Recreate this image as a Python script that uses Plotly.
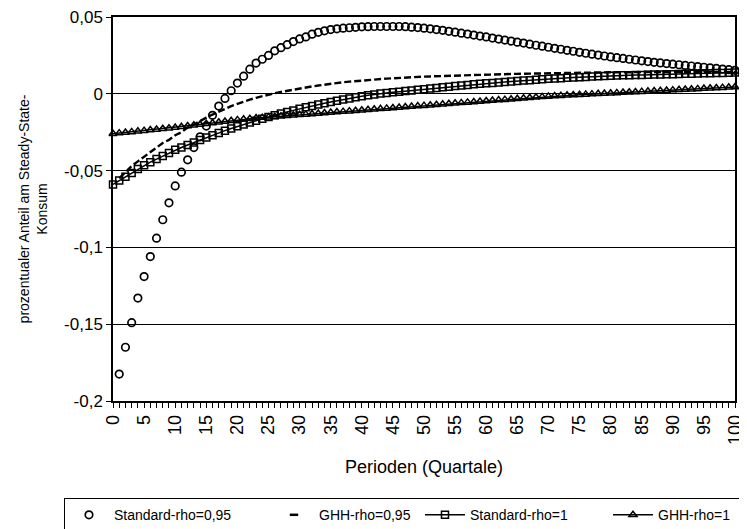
import plotly.graph_objects as go

periods = list(range(0, 101))

standard_rho_095 = [None,
    -0.1825, -0.165, -0.149, -0.133, -0.119, -0.106, -0.094, -0.082, -0.071, -0.060,
    -0.051, -0.043, -0.035, -0.028, -0.021, -0.014, -0.008, -0.003, 0.002, 0.007,
    0.0115, 0.016, 0.020, 0.0225, 0.025, 0.028, 0.030, 0.032, 0.034, 0.0357,
    0.037, 0.0388, 0.040, 0.041, 0.0418, 0.0423, 0.0427, 0.043, 0.0433, 0.0436,
    0.0437, 0.0438, 0.0438, 0.0438, 0.0438, 0.0438, 0.0437, 0.0434, 0.0431, 0.0427,
    0.0423, 0.0418, 0.0413, 0.0407, 0.0401, 0.0395, 0.0389, 0.0382, 0.0376, 0.037,
    0.0363, 0.0356, 0.035, 0.0343, 0.0336, 0.033, 0.0323, 0.0316, 0.031, 0.0303,
    0.0296, 0.029, 0.0283, 0.0277, 0.027, 0.0264, 0.0258, 0.0252, 0.0246, 0.024,
    0.0235, 0.023, 0.0225, 0.022, 0.0215, 0.021, 0.0205, 0.0201, 0.0197, 0.0193,
    0.0189, 0.0185, 0.0181, 0.0177, 0.0173, 0.0169, 0.0165, 0.0161, 0.0157, 0.0153]

ghh_rho_095 = [None,
    -0.055, -0.051, -0.047, -0.044, -0.041, -0.038, -0.035, -0.032, -0.030, -0.027,
    -0.025, -0.022, -0.020, -0.0175, -0.0155, -0.0135, -0.0115, -0.0095, -0.008, -0.0065,
    -0.005, -0.0038, -0.0026, -0.0015, -0.0005, 0.0004, 0.0012, 0.002, 0.0028, 0.0035,
    0.0042, 0.0048, 0.0054, 0.006, 0.0065, 0.007, 0.0075, 0.0079, 0.0083, 0.0087,
    0.009, 0.0093, 0.0096, 0.0099, 0.0101, 0.0104, 0.0106, 0.0108, 0.011, 0.0112,
    0.0113, 0.0115, 0.0116, 0.0118, 0.0119, 0.012, 0.0121, 0.0122, 0.0123, 0.0125,
    0.0126, 0.0127, 0.0128, 0.0129, 0.013, 0.0131, 0.0132, 0.0133, 0.0134, 0.0135,
    0.0136, 0.0136, 0.0137, 0.0137, 0.0138, 0.0138, 0.0139, 0.0139, 0.014, 0.014,
    0.014, 0.0141, 0.0141, 0.0141, 0.0141, 0.0142, 0.0142, 0.0142, 0.0142, 0.0142,
    0.0142, 0.0142, 0.0142, 0.0142, 0.0142, 0.0142, 0.0142, 0.0142, 0.0142, 0.0142]

standard_rho_1 = [-0.059,
    -0.0565, -0.054, -0.0515, -0.049, -0.0465, -0.0445, -0.0425, -0.0405, -0.0385, -0.0365,
    -0.035, -0.0333, -0.0317, -0.030, -0.0285, -0.027, -0.0255, -0.024, -0.0226, -0.0212,
    -0.020, -0.0187, -0.0175, -0.0163, -0.0151, -0.014, -0.0129, -0.0118, -0.0108, -0.0098,
    -0.0088, -0.0079, -0.007, -0.0061, -0.0053, -0.0045, -0.0037, -0.003, -0.0023, -0.0016,
    -0.001, -0.0004, 0.0002, 0.0006, 0.001, 0.0014, 0.0018, 0.0022, 0.0026, 0.003,
    0.0034, 0.0038, 0.0042, 0.0046, 0.005, 0.0054, 0.0058, 0.0062, 0.0065, 0.0068,
    0.0071, 0.0074, 0.0077, 0.008, 0.0083, 0.0086, 0.0089, 0.0092, 0.0095, 0.0098,
    0.01, 0.0102, 0.0104, 0.0106, 0.0108, 0.011, 0.0112, 0.0114, 0.0116, 0.0118,
    0.0119, 0.012, 0.0121, 0.0122, 0.0123, 0.0124, 0.0125, 0.0126, 0.0127, 0.0128,
    0.0129, 0.013, 0.0131, 0.0132, 0.0133, 0.0134, 0.0135, 0.0136, 0.0137, 0.0138]

ghh_rho_1 = [-0.026,
    -0.0256, -0.0252, -0.0248, -0.0244, -0.024, -0.0236, -0.0232, -0.0228, -0.0224, -0.022,
    -0.0215, -0.021, -0.0205, -0.020, -0.0195, -0.019, -0.0185, -0.018, -0.0175, -0.017,
    -0.0166, -0.0162, -0.0158, -0.0155, -0.0152, -0.0149, -0.0146, -0.0143, -0.014, -0.0137,
    -0.0134, -0.0131, -0.0128, -0.0125, -0.0122, -0.0119, -0.0116, -0.0113, -0.011, -0.0107,
    -0.0104, -0.0101, -0.0098, -0.0095, -0.0092, -0.0089, -0.0086, -0.0083, -0.008, -0.0077,
    -0.0074, -0.0071, -0.0068, -0.0065, -0.0062, -0.0059, -0.0056, -0.0053, -0.005, -0.0047,
    -0.0044, -0.0041, -0.0038, -0.0035, -0.0032, -0.0029, -0.0026, -0.0023, -0.002, -0.0017,
    -0.0014, -0.0012, -0.001, -0.0008, -0.0006, -0.0004, -0.0002, 0.0, 0.0002, 0.0004,
    0.0006, 0.0008, 0.001, 0.0012, 0.0014, 0.0016, 0.0018, 0.002, 0.0022, 0.0024,
    0.0026, 0.0028, 0.003, 0.0032, 0.0034, 0.0036, 0.0038, 0.004, 0.0042, 0.0044]

series_names = ["Standard-rho=0,95", "GHH-rho=0,95", "Standard-rho=1", "GHH-rho=1"]
y_tickvals = [0.05, 0, -0.05, -0.1, -0.15, -0.2]
y_ticktext = ["0,05", "0", "-0,05", "-0,1", "-0,15", "-0,2"]
x_tickvals = list(range(0, 101, 5))
x_ticktext = [str(v) for v in x_tickvals]

FONT = "Liberation Sans, Arial, sans-serif"

fig = go.Figure()
fig.add_trace(go.Scatter(
    x=periods, y=standard_rho_095, mode="markers", name=series_names[0],
    marker=dict(symbol="circle-open", size=7.5, color="black", line=dict(width=1.7, color="black")),
    legendwidth=150, cliponaxis=False))
# GHH-rho=0,95 drawn as a short-dash line; legend shows a short dash sample
fig.add_trace(go.Scatter(
    x=periods, y=ghh_rho_095, mode="lines", name=series_names[1], showlegend=False,
    line=dict(color="black", width=2.4, dash="7px,3px"), legendgroup="g2",
    cliponaxis=False))
fig.add_trace(go.Scatter(
    x=[None], y=[None], mode="markers", name=series_names[1], legendgroup="g2",
    marker=dict(symbol="line-ew", size=6, color="black", line=dict(width=2.5, color="black")),
    legendwidth=96))
fig.add_trace(go.Scatter(
    x=periods, y=standard_rho_1, mode="lines+markers", name=series_names[2],
    line=dict(color="black", width=1.5),
    marker=dict(symbol="square-open", size=7, color="black", line=dict(width=1.5, color="black")),
    legendwidth=133, cliponaxis=False))
fig.add_trace(go.Scatter(
    x=periods, y=ghh_rho_1, mode="lines+markers", name=series_names[3],
    line=dict(color="black", width=1.5),
    marker=dict(symbol="triangle-up-open", size=7, color="black", line=dict(width=1.5, color="black")),
    legendwidth=80, cliponaxis=False))

# the page body adds an 8px offset, so the figure is sized to the remaining space
fig.update_layout(
    width=739, height=521,
    margin=dict(l=105, r=12, t=9, b=128, autoexpand=False),
    paper_bgcolor="white", plot_bgcolor="white",
    font=dict(family=FONT, size=14, color="black"),
    showlegend=True,
    legend=dict(
        orientation="h", x=-0.0788, y=-0.2526, xanchor="left", yanchor="top",
        bordercolor="black", borderwidth=1.2, bgcolor="white",
        font=dict(family=FONT, size=14, color="black"),
        itemwidth=40, tracegroupgap=0,
    ),
)
fig.update_xaxes(
    range=[0, 100], tickmode="array", tickvals=x_tickvals, ticktext=x_ticktext,
    tickangle=-90, ticks="outside", ticklen=5, tickwidth=1.2, tickcolor="black",
    minor=dict(dtick=1, ticks="outside", ticklen=5, tickwidth=1, tickcolor="black", showgrid=False),
    showgrid=False, zeroline=False, showline=True, linecolor="black", linewidth=1.5, mirror=True,
    tickfont=dict(family=FONT, size=18), automargin=False, ticklabeloverflow="allow",
    title=dict(text="Perioden (Quartale)", font=dict(family=FONT, size=18), standoff=16),
)
fig.update_yaxes(
    range=[-0.2, 0.05], tickmode="array", tickvals=y_tickvals, ticktext=y_ticktext,
    ticks="outside", ticklen=5, tickwidth=1.2, tickcolor="black",
    showgrid=True, gridcolor="black", gridwidth=1.3,
    zeroline=False, showline=True, linecolor="black", linewidth=1.5, mirror=True,
    tickfont=dict(family=FONT, size=17), automargin=False, ticklabeloverflow="allow",
    title=dict(text="prozentualer Anteil am Steady-State-<br>Konsum", font=dict(family=FONT, size=14), standoff=13),
)

fig.write_html("out.html")
